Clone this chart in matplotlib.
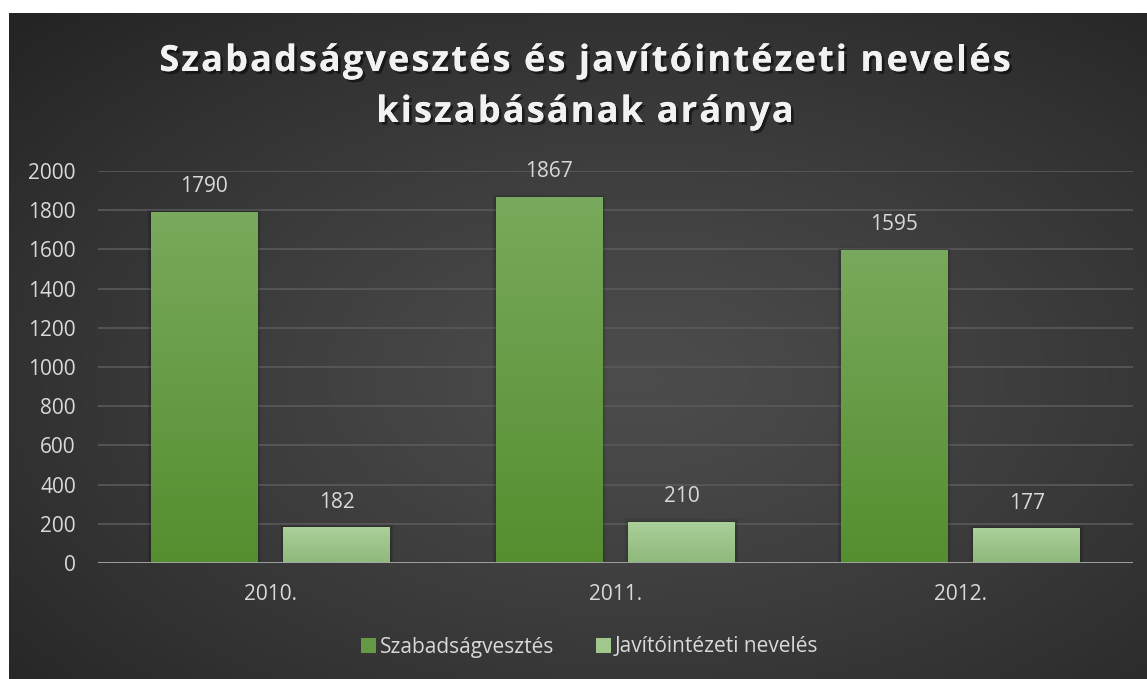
import numpy as np
import matplotlib.pyplot as plt
import matplotlib.patheffects as pe
from matplotlib.patches import Patch
from matplotlib.font_manager import FontProperties

years = ["2010.", "2011.", "2012."]
szabadsag = [1790, 1867, 1595]
javito = [182, 210, 177]
series_names = ["Szabadságvesztés", "Javítóintézeti nevelés"]
title_lines = ["Szabadságvesztés és javítóintézeti nevelés", "kiszabásának aránya"]

W, H = 1147, 679
fig = plt.figure(figsize=(W / 100, H / 100), dpi=100)
fig.patch.set_facecolor("white")
plt.rcParams["font.family"] = ["Open Sans", "DejaVu Sans"]

# dark radial background
bg = fig.add_axes([9 / W, 0, 1 - 9 / W, (H - 13) / H])
yy, xx = np.mgrid[0:1:300j, 0:1:500j]
r = np.sqrt(((xx - 0.55) / 0.75) ** 2 + ((yy - 0.45) / 0.75) ** 2)
r = np.clip(r, 0, 1)
c0, c1 = 0.30, 0.145
img = c0 + (c1 - c0) * r ** 1.2
bg.imshow(np.dstack([img, img, img]), aspect="auto", extent=[0, 1, 0, 1], origin="lower")
bg.set_axis_off()

ax = fig.add_axes([98 / W, (H - 563) / H, (1133 - 98) / W, (563 - 171) / H])
ax.set_facecolor("none")
x = np.arange(len(years))
w = 0.31
off = 0.192

grad = np.linspace(0, 1, 100)[:, None]


def gradient_bars(xs, vals, top, bottom):
    bars = ax.bar(xs, vals, w, color=top, zorder=3)
    t = np.array(top)
    b = np.array(bottom)
    cols = b[None, None, :] + (t - b)[None, None, :] * grad[:, :, None]
    for bar in bars:
        x0, y0 = bar.get_x(), bar.get_y()
        im = ax.imshow(cols, aspect="auto", origin="lower",
                       extent=[x0, x0 + bar.get_width(), y0, y0 + bar.get_height()],
                       zorder=3.1)
        im.set_clip_path(bar)
        # soft shadow
        for k, a in enumerate([0.10, 0.06, 0.03]):
            sh = plt.Rectangle((x0 - 0.004 * (k + 1), 0), bar.get_width() + 0.008 * (k + 1),
                               bar.get_height() + 6 * (k + 1), color="black", alpha=a,
                               zorder=2.5, lw=0)
            ax.add_patch(sh)
    return bars


gradient_bars(x - off, szabadsag, (0.475, 0.663, 0.361), (0.333, 0.557, 0.184))
gradient_bars(x + off, javito, (0.671, 0.816, 0.604), (0.557, 0.722, 0.486))

txt = "#d9d9d9"
for xi, v in zip(x - off, szabadsag):
    ax.text(xi, v + 130, str(v), ha="center", va="center", color=txt, fontsize=15, clip_on=False)
for xi, v in zip(x + off, javito):
    ax.text(xi, v + 128, str(v), ha="center", va="center", color=txt, fontsize=15, clip_on=False)

ax.set_xlim(-0.5, 2.5)
ax.set_ylim(0, 2000)
ax.set_yticks(range(0, 2001, 200))
ax.set_xticks(x)
ax.set_xticklabels(years)
ax.tick_params(axis="both", length=0, colors=txt, labelsize=15)
ax.tick_params(axis="y", pad=16)
ax.tick_params(axis="x", pad=15)
ax.grid(axis="y", color="#5a5a5a", lw=1.2, zorder=1)
for s in ax.spines.values():
    s.set_visible(False)
ax.axhline(0, color="#a6a6a6", lw=2, zorder=4)

# letter-spaced title, drawn char by char
fig.canvas.draw()
renderer = fig.canvas.get_renderer()
prop = FontProperties(family="Open Sans", weight="bold", size=26)
track = 2.1
shadow = [pe.withSimplePatchShadow(offset=(2, -2), shadow_rgbFace="black", alpha=0.5), pe.Normal()]
for line, yc in zip(title_lines, [62, 113]):
    widths = [renderer.get_text_width_height_descent(ch, prop, ismath=False)[0] for ch in line]
    total = sum(widths) + track * (len(line) - 1)
    xp = 585 - total / 2
    for ch, cw in zip(line, widths):
        fig.text(xp / W, 1 - yc / H, ch, ha="left", va="center", color="#f2f2f2",
                 fontproperties=prop, path_effects=shadow)
        xp += cw + track

handles = [Patch(facecolor=(0.4, 0.6, 0.27)), Patch(facecolor=(0.63, 0.78, 0.56))]
leg = fig.legend(handles, series_names, loc="center", bbox_to_anchor=(590 / W, 1 - 647 / H),
                 ncol=2, frameon=False, fontsize=15, handlelength=0.7, handleheight=0.7,
                 handletextpad=0.2, columnspacing=2.0)
for t in leg.get_texts():
    t.set_color(txt)

fig.savefig("out.png", dpi=100, facecolor="white")
